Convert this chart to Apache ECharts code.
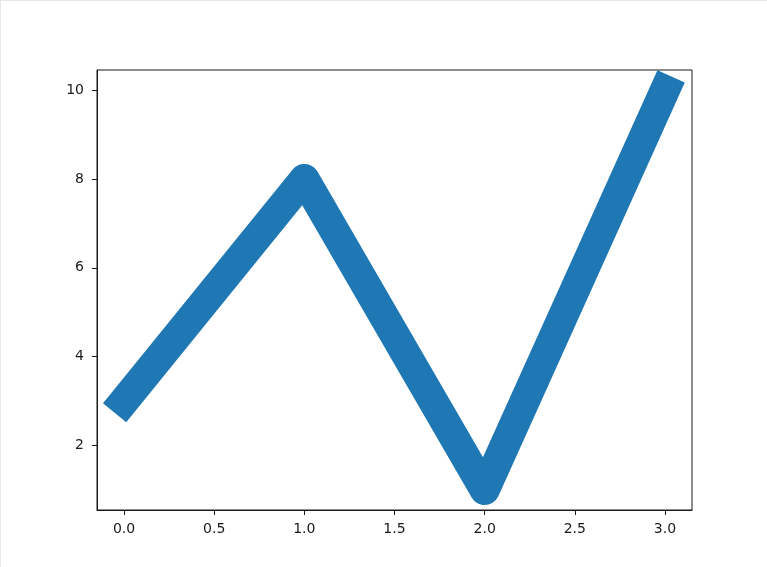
<!DOCTYPE html>
<html>
<head>
<meta charset="utf-8">
<script src="https://cdn.jsdelivr.net/npm/echarts@6/dist/echarts.min.js"></script>
<style>
html,body{margin:0;padding:0;background:#fff;}
#frame{position:absolute;left:0;top:0;width:766px;height:566px;border-top:1px solid #e6e6e6;border-left:1px solid #e6e6e6;}
#chart{position:absolute;left:0;top:0;width:767px;height:567px;}
</style>
</head>
<body>
<div id="frame"></div>
<div id="chart"></div>
<script>
const xValues = [0, 1, 2, 3];
const yValues = [3, 8, 1, 10];
const xTicks = [0, 0.5, 1, 1.5, 2, 2.5, 3];
const yTicks = [2, 4, 6, 8, 10];

const chart = echarts.init(document.getElementById('chart'), null, {renderer: 'canvas'});
const labelStyle = {color: '#1a1a1a', fontSize: 14, fontFamily: 'DejaVu Sans'};
chart.setOption({
  backgroundColor: 'transparent',
  animation: false,
  grid: {left: 97, right: 75, top: 70, bottom: 57, show: true, borderColor: '#1a1a1a', borderWidth: 1, backgroundColor: 'transparent'},
  xAxis: {
    type: 'value', min: -0.15, max: 3.15,
    splitLine: {show: false},
    axisLine: {show: true, onZero: false, lineStyle: {color: '#1a1a1a', width: 1}},
    axisTick: {show: true, inside: false, length: 5, customValues: xTicks, lineStyle: {color: '#1a1a1a'}},
    axisLabel: Object.assign({customValues: xTicks, margin: 12, formatter: v => v.toFixed(1)}, labelStyle)
  },
  yAxis: {
    type: 'value', min: 0.55, max: 10.45,
    splitLine: {show: false},
    axisLine: {show: true, onZero: false, lineStyle: {color: '#1a1a1a', width: 1}},
    axisTick: {show: true, inside: false, length: 5, customValues: yTicks, lineStyle: {color: '#1a1a1a'}},
    axisLabel: Object.assign({customValues: yTicks, margin: 13, formatter: v => String(v)}, labelStyle)
  },
  series: [{
    type: 'line',
    data: xValues.map((x, i) => [x, yValues[i]]),
    showSymbol: false,
    symbol: 'none',
    clip: true,
    lineStyle: {color: '#1f77b4', width: 30, join: 'round', cap: 'square'}
  }]
});
</script>
</body>
</html>
